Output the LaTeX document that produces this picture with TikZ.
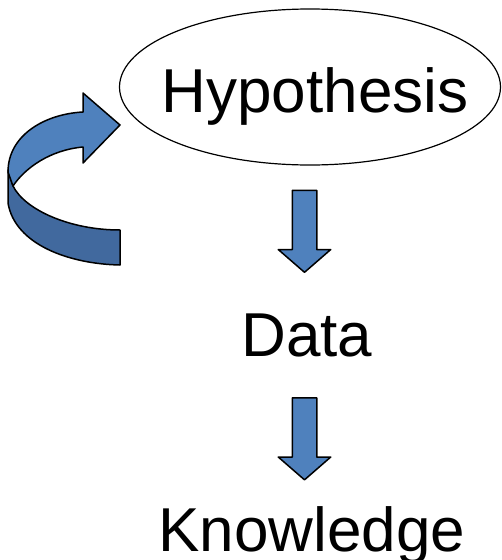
\documentclass[tikz,border=0pt]{standalone}
\usepackage{fontspec}
\setmainfont{Liberation Sans}
\usepackage{tikz}
\usetikzlibrary{shapes.geometric}
\usetikzlibrary{shapes.arrows}
\usetikzlibrary{positioning}
\definecolor{ArrowBlue}{HTML}{4F81BD}
\definecolor{ArrowDark}{HTML}{41699E}

\begin{document}
\begin{tikzpicture}[line cap=round,line join=round,x=1pt,y=-1pt,
  word/.style={anchor=base,inner sep=0pt,font=\fontsize{62}{70}\selectfont},
  downarrow/.style={single arrow,draw=black,fill=ArrowBlue,line width=1.5pt,
    rotate=-90,minimum height=82pt,inner xsep=0pt,inner ysep=11.5pt,
    single arrow head extend=14pt,single arrow tip angle=98},
  band/.style={draw=black,line width=1.5pt,line join=round}]
\useasboundingbox (0,0) rectangle (502,560);
% hypothesis
\node[ellipse,draw=black,line width=1.2pt,minimum width=381pt,minimum height=156pt,inner sep=0pt] (hyp) at (310,87) {};
\node[word] (hyptext) at (315,112) {Hypothesis};
% data and knowledge
\node[word] (data) at (307,356) {Data};
\node[word] (know) at (312,551) {Knowledge};
% block arrows
\node[downarrow] (arr1) at (304.5,226) {};
\node[downarrow] (arr2) at (304.5,433.5) {};
% curved arrow, back band
\draw[band,fill=ArrowDark] (8,170) -- (8,203) .. controls (15,245) and (70,264) .. (120,265)
  -- (120,230) .. controls (70,230) and (25,210) .. (13,186) -- cycle;
% curved arrow, front band
\draw[band,fill=ArrowBlue] (8,172) .. controls (8,135) and (45,114) .. (83,112)
  -- (83,93) -- (120,125) -- (83,163) -- (83,147)
  .. controls (50,150) and (25,168) .. (13,186) -- cycle;
\end{tikzpicture}
\end{document}
